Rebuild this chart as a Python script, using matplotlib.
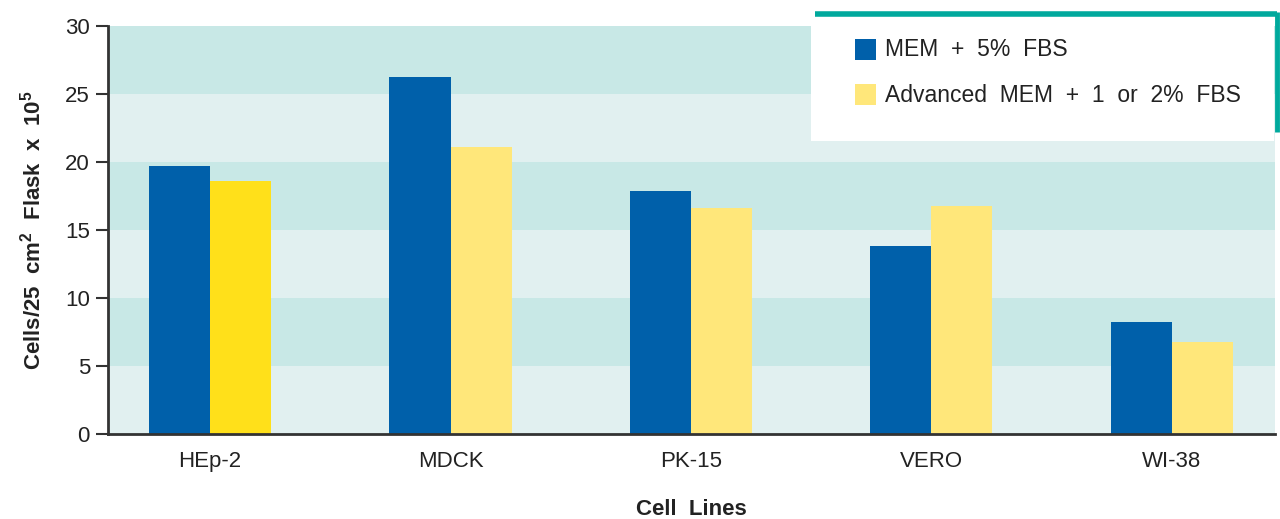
import matplotlib
matplotlib.use('Agg')
import matplotlib.pyplot as plt
from matplotlib.patches import Rectangle
from matplotlib.lines import Line2D
import numpy as np

plt.rcParams['font.family'] = ['Liberation Sans Narrow', 'Liberation Sans', 'DejaVu Sans']

cell_lines = ['HEp-2', 'MDCK', 'PK-15', 'VERO', 'WI-38']
mem_5fbs = [19.7, 26.25, 17.9, 13.8, 8.2]
adv_mem = [18.6, 21.1, 16.6, 16.8, 6.8]
series_labels = ['MEM  +  5%  FBS', 'Advanced  MEM  +  1  or  2%  FBS']

blue = '#0060aa'
yellow = '#ffe77a'
yellow_hep = '#ffe01a'
band_dark = '#c8e8e6'
band_light = '#e1f0f0'
teal = '#00a99d'

fig = plt.figure(figsize=(12.8, 5.19), dpi=100)
ax = fig.add_axes([108/1280, 1-434/519, (1275-108)/1280, (434-26)/519])

# background bands
for i, y0 in enumerate(range(0, 30, 5)):
    ax.axhspan(y0, y0 + 5, color=band_light if i % 2 == 0 else band_dark, lw=0, zorder=0)

x = np.arange(len(cell_lines))
w = 0.254
ax.bar(x - w/2, mem_5fbs, width=w, color=blue, zorder=2)
ycols = [yellow_hep] + [yellow] * (len(cell_lines) - 1)
ax.bar(x + w/2, adv_mem, width=w, color=ycols, zorder=2)

ax.set_xlim(-0.425, 4.43)
ax.set_ylim(0, 30)
ax.set_yticks(range(0, 31, 5))
ax.set_xticks(x)
ax.set_xticklabels(cell_lines, fontsize=16, color='#222222')
ax.tick_params(axis='y', length=9, width=1.5, color='#333333', labelsize=16, labelcolor='#222222', pad=4)
ax.tick_params(axis='x', length=0, pad=12)
for s in ['top', 'right']:
    ax.spines[s].set_visible(False)
for s in ['left', 'bottom']:
    ax.spines[s].set_linewidth(2)
    ax.spines[s].set_color('#333333')

ax.set_ylabel(r'Cells/25  cm$^\mathregular{2}$  Flask  x  10$^\mathregular{5}$',
              fontsize=16, fontweight='bold', color='#222222', labelpad=14)
ax.set_xlabel('Cell  Lines', fontsize=16, fontweight='bold', color='#222222', labelpad=20)

# legend box
fig.patches.append(Rectangle((811/1280, 1-141/519), (1274-811)/1280, (141-17)/519,
                             transform=fig.transFigure, facecolor='white', edgecolor='none', zorder=5))
fig.lines.append(Line2D([815/1280, 1277/1280], [1-14/519, 1-14/519], transform=fig.transFigure,
                        color=teal, lw=4, zorder=6, solid_capstyle='butt'))
fig.lines.append(Line2D([1277/1280, 1277/1280], [1-12/519, 1-132/519], transform=fig.transFigure,
                        color=teal, lw=3.5, zorder=6, solid_capstyle='butt'))
for (lab, col, yc) in [(series_labels[0], blue, 50), (series_labels[1], yellow, 95)]:
    fig.patches.append(Rectangle((855/1280, 1-(yc+10)/519), 21/1280, 21/519,
                                 transform=fig.transFigure, facecolor=col, edgecolor='none', zorder=7))
    fig.text(885/1280, 1-yc/519, lab, fontsize=16.5, color='#222222', va='center', ha='left', zorder=7)

fig.savefig('out.png', dpi=100)
